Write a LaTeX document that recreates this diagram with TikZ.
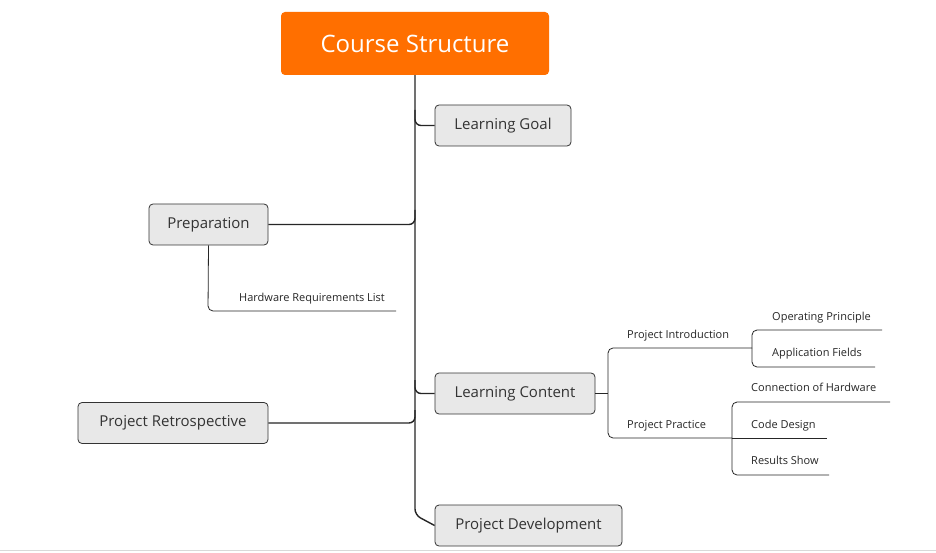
\documentclass[tikz,border=0pt]{standalone}
\usepackage{fontspec}
\setmainfont{Open Sans}
\begin{document}
\begin{tikzpicture}[x=1pt,y=-1pt,
  box/.style={draw=black!80,fill=black!9,rounded corners=4pt,line width=0.8pt,minimum height=41pt,inner sep=0pt,font=\fontsize{15}{18}\selectfont,text=black!80},
  lab/.style={font=\fontsize{11}{13}\selectfont,text=black!85,inner sep=0pt},
  ln/.style={line width=0.8pt,draw=black!85,rounded corners=5pt},
  lnt/.style={line width=1.4pt,draw=black!85,rounded corners=6pt}]
\useasboundingbox (0,0) rectangle (936,553);
\fill[white] (0,0) rectangle (936,553);
\draw[black!15,line width=0.8pt] (0,550) -- (936,550);
\node[fill={rgb,255:red,255;green,111;blue,0},rounded corners=4pt,minimum width=268pt,minimum height=63pt,text=white,font=\fontsize{24}{28}\selectfont] (title) at (415,43.5) {Course Structure};
\node[box,minimum width=136pt] (goal) at (503,125.5) {Learning Goal};
\node[box,minimum width=119pt] (prep) at (208.5,224.5) {Preparation};
\node[box,minimum width=160pt] (cont) at (515,393.5) {Learning Content};
\node[box,minimum width=190pt] (retro) at (173,423) {Project Retrospective};
\node[box,minimum width=187pt] (dev) at (528.5,525.5) {Project Development};
\coordinate (t0) at (415,75);
\draw[lnt] (title.south) -- (415,515) -- (dev.west);
\draw[lnt] (415,110) -- (415,125.5) -- (goal.west);
\draw[lnt] (prep.east) -- (415,224.5) -- (415,210);
\draw[lnt] (retro.east) -- (415,423) -- (415,410);
\draw[lnt] (415,380) -- (415,393.5) -- (cont.west);
% hardware
\node[lab,anchor=base west] (hw) at (239,301) {Hardware Requirements List};
\coordinate (hwe) at (396,311);
\draw[ln] (prep.south) -- (208,311) -- (hwe);
% learning content sub
\coordinate (lc1) at (608,393.5);
\draw[ln] (cont.east) -- (lc1);
\node[lab,anchor=base west] (pi) at (627,338) {Project Introduction};
\node[lab,anchor=base west] (pp) at (627,428) {Project Practice};
\coordinate (pie) at (752,348);
\coordinate (ppe) at (732,438);
\draw[ln] (lc1) -- (608,348) -- (pie);
\draw[ln] (lc1) -- (608,438) -- (ppe);
\node[lab,anchor=base west] (op) at (772,320) {Operating Principle};
\node[lab,anchor=base west] (af) at (772,356) {Application Fields};
\coordinate (ope) at (882,330);
\coordinate (afe) at (875,367);
\draw[ln] (pie) -- (752,330) -- (ope);
\draw[ln] (pie) -- (752,367) -- (afe);
\node[lab,anchor=base west] (ch) at (751,391) {Connection of Hardware};
\node[lab,anchor=base west] (cd) at (751,428) {Code Design};
\node[lab,anchor=base west] (rs) at (751,464) {Results Show};
\coordinate (che) at (890,402);
\coordinate (cde) at (827,438);
\coordinate (rse) at (829,475);
\draw[ln] (ppe) -- (732,402) -- (che);
\draw[ln] (ppe) -- (cde);
\draw[ln] (ppe) -- (732,475) -- (rse);
\end{tikzpicture}
\end{document}
